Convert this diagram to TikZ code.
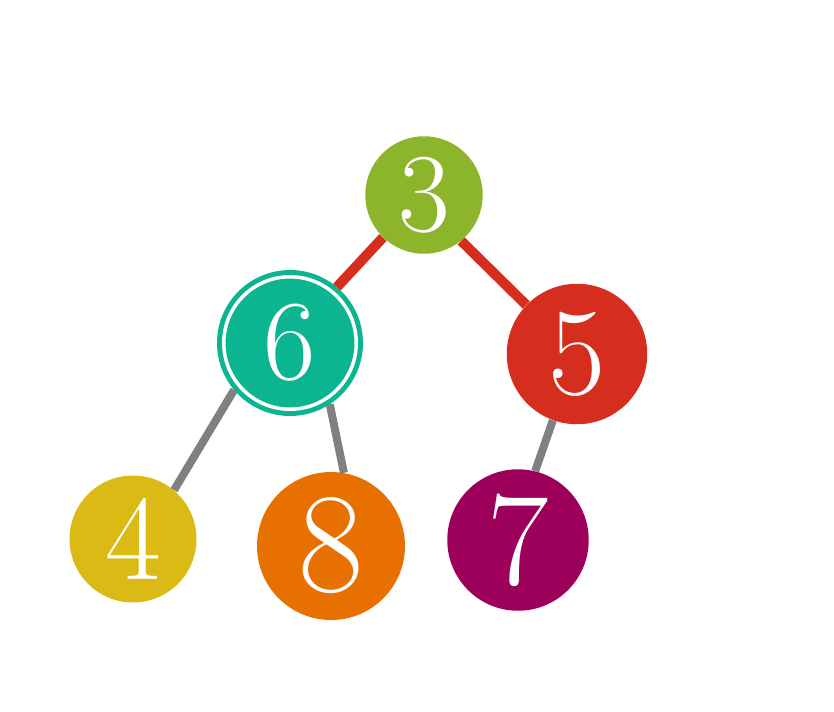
\documentclass[tikz,border=0pt]{standalone}
\usepackage{fontspec}

\definecolor{rootgreen}{HTML}{8CB52B}
\definecolor{nodeteal}{HTML}{0CB592}
\definecolor{nodered}{HTML}{D62E1E}
\definecolor{nodeyellow}{HTML}{DCBA16}
\definecolor{nodeorange}{HTML}{E87000}
\definecolor{nodepurple}{HTML}{9C005B}
\definecolor{edgegray}{HTML}{808080}

\begin{document}
\begin{tikzpicture}[x=0.02cm,y=-0.02cm,
                    main node/.style={circle,inner sep=0pt,text=white},
                    red edge/.style={draw=nodered,line width=0.2cm},
                    gray edge/.style={draw=edgegray,line width=0.16cm}]

      \useasboundingbox (0,0) rectangle (834,711);

      % Define vertices
      \node[main node,fill=rootgreen,minimum size=2.35cm,font=\fontsize{64}{64}\selectfont] (3) at (424,195) {3};
      \node[main node,fill=nodeteal,draw=nodeteal,line width=0.1cm,double=white,double distance=0.07cm,
            outer sep=0.135cm,minimum size=2.65cm,font=\fontsize{65}{65}\selectfont] (6) at (290,343) {6};
      \node[main node,fill=nodered,minimum size=2.81cm,font=\fontsize{71}{71}\selectfont] (5) at (577,354) {5};
      \node[main node,fill=nodeyellow,minimum size=2.54cm,font=\fontsize{69}{69}\selectfont] (4) at (133,539) {4};
      \node[main node,fill=nodeorange,minimum size=2.96cm,font=\fontsize{81}{81}\selectfont] (8) at (331,546) {8};
      \node[main node,fill=nodepurple,minimum size=2.83cm,font=\fontsize{76}{76}\selectfont] (7) at (518,540) {7};

      % Draw edges
      \path
        (3.226) edge[red edge] (6.50)
        (3.-51) edge[red edge] (5.136)
        (6.220) edge[gray edge] (4.50)
        (6.-57) edge[gray edge] (8.80)
        (5.-110) edge[gray edge] (7.76);

    \end{tikzpicture}
\end{document}
